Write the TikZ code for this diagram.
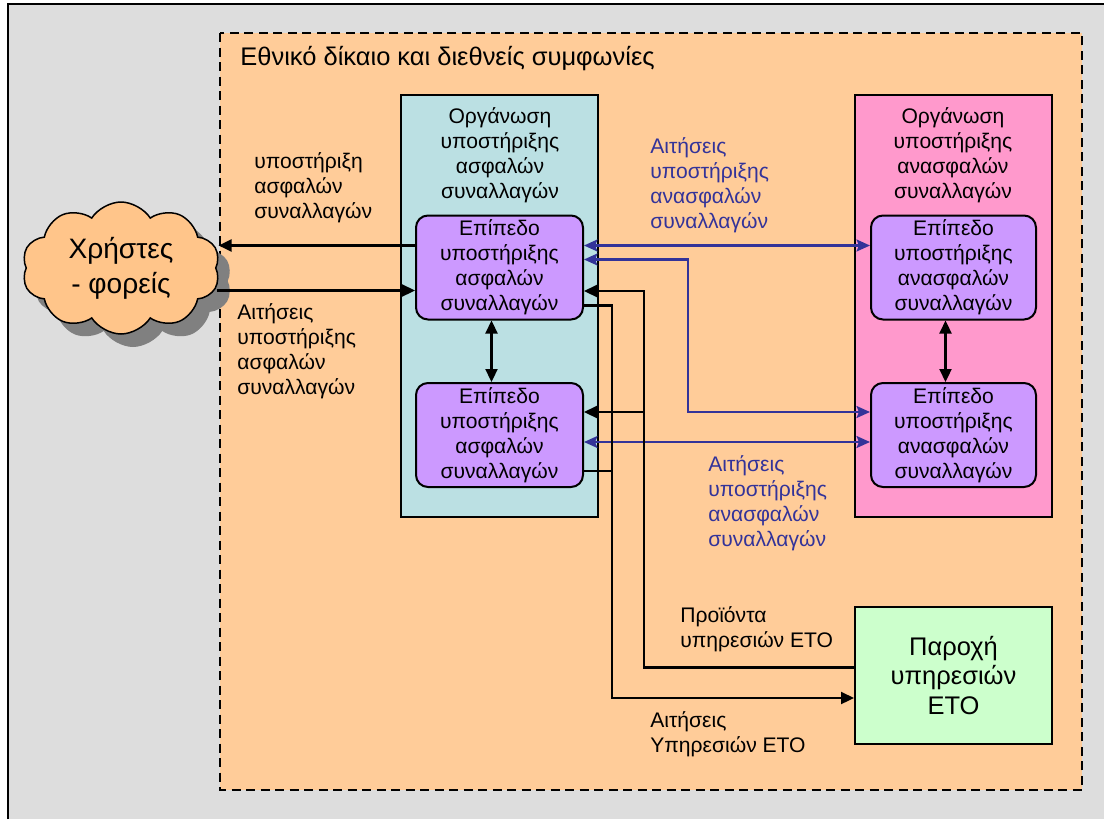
\documentclass[tikz,border=0pt]{standalone}
\usepackage{fontspec}
\setmainfont{Liberation Sans}
\usetikzlibrary{arrows.meta,positioning,calc,shapes.symbols,shadows}

\definecolor{bggray}{HTML}{DDDDDD}
\definecolor{lawfill}{HTML}{FFCC99}
\definecolor{cloudfill}{HTML}{FFC58A}
\definecolor{secfill}{HTML}{BBE0E3}
\definecolor{unsecfill}{HTML}{FF99CC}
\definecolor{lvlfill}{HTML}{CC99FF}
\definecolor{etofill}{HTML}{CCFFCC}
\definecolor{reqblue}{HTML}{333399}
\definecolor{shadowgray}{HTML}{808080}

\begin{document}
\begin{tikzpicture}[
		x=0.2mm,y=-0.2mm,
		lab/.style={font=\fontsize{12}{14.2}\selectfont,align=left,inner sep=0pt,anchor=west},
		ttl/.style={font=\fontsize{12}{14.2}\selectfont,align=center,inner sep=0pt},
		org/.style={draw=black,line width=0.4mm,minimum width=39.4mm,minimum height=84.4mm,inner sep=0pt},
		lvl/.style={draw=black,line width=0.4mm,fill=lvlfill,rounded corners=2.4mm,
			minimum width=33.4mm,minimum height=20.8mm,inner sep=0pt,align=center,
			font=\fontsize{12}{14.2}\selectfont},
		arr/.style={-{Triangle[length=2.6mm,width=2.4mm]},line width=0.45mm},
		dbl/.style={{Triangle[length=2.6mm,width=2.4mm]}-{Triangle[length=2.6mm,width=2.4mm]},line width=0.45mm},
		bdbl/.style={{Stealth[length=2.7mm,width=2.4mm,inset=0.5mm]}-{Stealth[length=2.7mm,width=2.4mm,inset=0.5mm]},line width=0.42mm,draw=reqblue}
		]
		\useasboundingbox (0,0) rectangle (1104,819);
		
		% --- page frame
		\fill[white] (0,0) rectangle (1104,819);
		\fill[bggray] (8,4) rectangle (1104,819);
		\draw[line width=0.5mm] (8,819) -- (8,4) -- (1104,4);
		
		% --- legal frame (dashed)
		\filldraw[fill=lawfill,draw=black,line width=0.45mm,dash pattern=on 1.8mm off 1.1mm]
		(220,33) rectangle (1082,790);
		\node[lab,font=\fontsize{14.5}{17}\selectfont] (law) at (240,59) {Εθνικό δίκαιο και διεθνείς συμφωνίες};
		
		% --- the two organisations
		\node[org,fill=secfill] (secorg) at (499.5,306) {};
		\node[org,fill=unsecfill] (unsecorg) at (953,306) {};
		\node[ttl] (secorgt) at (500,155) {Οργάνωση\\υποστήριξης\\ασφαλών\\συναλλαγών};
		\node[ttl] (unsecorgt) at (953,155) {Οργάνωση\\υποστήριξης\\ανασφαλών\\συναλλαγών};
		
		% --- support levels
		\node[lvl] (lsec1) at (499.5,267.5) {Επίπεδο\\υποστήριξης\\ασφαλών\\συναλλαγών};
		\node[lvl] (lsec2) at (499.5,435) {Επίπεδο\\υποστήριξης\\ασφαλών\\συναλλαγών};
		\node[lvl,minimum width=33mm] (rsec1) at (953.5,267.5) {Επίπεδο\\υποστήριξης\\ανασφαλών\\συναλλαγών};
		\node[lvl,minimum width=33mm] (rsec2) at (953.5,435) {Επίπεδο\\υποστήριξης\\ανασφαλών\\συναλλαγών};
		
		% --- ETO provider
		\node[draw=black,line width=0.4mm,fill=etofill,minimum width=39.4mm,minimum height=27.4mm,
		align=center,font=\fontsize{14.5}{17}\selectfont] (eto) at (953.5,675.5) {Παροχή\\υπηρεσιών\\ΕΤΟ};
		
		% --- users cloud
		\node[cloud,cloud puffs=10,cloud puff arc=115,cloud ignores aspect,
		minimum width=39.6mm,minimum height=26.4mm,draw=black,line width=0.3mm,fill=cloudfill,
		drop shadow={fill=shadowgray,opacity=1,shadow xshift=2.4mm,shadow yshift=-2.6mm},
		align=center,font=\fontsize{16}{20}\selectfont] (users) at (121,268) {Χρήστες\\- φορείς};
		
		% --- texts beside the connectors
		\node[lab] (secret) at (254,188) {υποστήριξη\\ασφαλών\\συναλλαγών};
		\node[lab] (secreq) at (237,351) {Αιτήσεις\\υποστήριξης\\ασφαλών\\συναλλαγών};
		\node[lab,text=reqblue] (unsreq1) at (650,185) {Αιτήσεις\\υποστήριξης\\ανασφαλών\\συναλλαγών};
		\node[lab,text=reqblue] (unsreq2) at (708,503) {Αιτήσεις\\υποστήριξης\\ανασφαλών\\συναλλαγών};
		\node[lab] (etoprod) at (680,629) {Προϊόντα\\υπηρεσιών ΕΤΟ};
		\node[lab] (etoreq) at (650,734) {Αιτήσεις\\Υπηρεσιών ΕΤΟ};
		
		% --- users <-> secure level
		\coordinate (uret) at ($(lsec1.west)+(0,-22)$);
		\coordinate (ureq) at ($(lsec1.west)+(0,23)$);
		\draw[arr] (uret) -- ($(uret -| users.east)+(2,0)$);
		\draw[arr] (ureq -| users.east) -- (ureq);
		
		% --- between levels
		\draw[dbl] ($(lsec1.south)+(-8,0)$) -- ($(lsec2.north)+(-8,0)$);
		\draw[dbl] ($(rsec1.south)+(-8,0)$) -- ($(rsec2.north)+(-8,0)$);
		
		% --- unsecured requests (blue)
		\coordinate (bturn) at (688,412);
		\draw[bdbl] ($(lsec1.east)+(0,-22)$) -- ($(rsec1.west)+(0,-22)$);
		\draw[bdbl] ($(lsec1.east)+(0,-8)$) -| (bturn) -- (bturn -| rsec2.west);
		\draw[bdbl] ($(lsec2.east)+(0,7)$) -- ($(rsec2.west)+(0,7)$);
		
		% --- ETO products back to the levels
		\coordinate (prodbus) at (644,291);
		\draw[arr] ($(eto.west)+(0,-8)$) -| (prodbus) -- (prodbus -| lsec1.east);
		\draw[arr] ($(prodbus |- lsec2.east)+(0,-23)$) -- ($(lsec2.east)+(0,-23)$);
		
		% --- ETO requests from the levels
		\coordinate (reqbus) at (612,698);
		\draw[arr] ($(lsec1.east)+(0,38)$) -| (reqbus) -- (reqbus -| eto.west);
		\draw[line width=0.45mm] ($(lsec2.east)+(0,36)$) -- ($(reqbus |- lsec2.east)+(0,36)$);
		
	\end{tikzpicture}
\end{document}
